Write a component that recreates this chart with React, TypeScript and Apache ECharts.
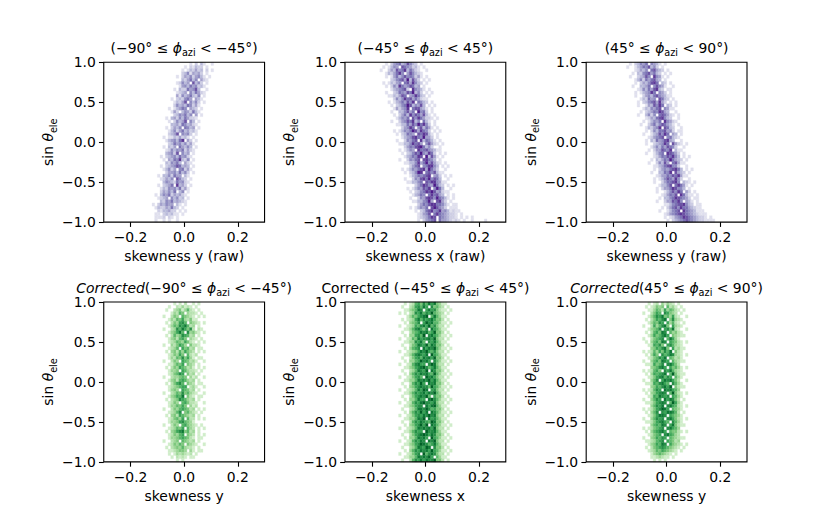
import React, { useEffect, useRef } from 'react';
import * as echarts from 'echarts';

// ---------- colour maps (matplotlib Purples / Greens) ----------
const PURPLES = ['#fcfbfd', '#efedf5', '#dadaeb', '#bcbddc', '#9e9ac8', '#807dba', '#6a51a3', '#54278f', '#3f007d'];
const GREENS = ['#f7fcf5', '#e5f5e0', '#c7e9c0', '#a1d99b', '#74c476', '#41ab5d', '#238b45', '#006d2c', '#00441b'];

// ---------- binning ----------
const X_ORIGIN = -0.3; // left edge of column 0
const X_BIN = 0.01;
const Y_TOP = 1.0; // top edge of row 0
const Y_BIN = 0.04;

const X_TICKS = [-0.2, 0, 0.2];

// ---------- panel 1 : raw, -90..-45 ----------
const p1Start = [29, 28, 28, 27, 27, 27, 26, 26, 26, 26, 25, 25, 25, 24, 24, 24, 24, 23, 23, 23, 23, 23, 22, 22, 22, 22, 22, 22, 21, 21, 21, 21, 21, 21, 21, 20, 20, 20, 20, 20, 19, 19, 19, 19, 18, 18, 18, 18, 17, 17];
const p1Rows = [
  '00010203100100', '00102132201000', '01013242302010', '00235143420100', '10243524531010',
  '00324635042100', '01253407352010', '00145364523100', '10322645730010', '01234053642100',
  '00415346325010', '10232564043100', '01324705352010', '00253436524100', '10134650432010',
  '01420354263100', '00235463504010', '10342536422100', '01025347053010', '00334265342100',
  '10243506534010', '01352463423100', '00234705452010', '10113242310100', '01345368042010',
  '00236453524100', '10324064353010', '01253546242100', '00345270534010', '10234536452100',
  '01043658325010', '00325463042100', '10234576343010', '01352405624100', '00244536352010',
  '10335264403100', '01243507532010', '00354326452100', '10234608342010', '01325453624100',
  '00243536035010', '10354624342100', '01234053523010', '00325463432100', '10243544031010',
  '01322436320100', '00213342201010', '01102323110100', '00111202101000', '00100101001000',
];

// ---------- panel 2 : raw, -45..45 ----------
const p2Start = [13, 13, 13, 13, 14, 14, 14, 14, 15, 15, 15, 15, 16, 16, 16, 17, 17, 17, 17, 18, 18, 18, 18, 19, 19, 19, 19, 20, 20, 20, 20, 21, 21, 21, 21, 22, 22, 22, 23, 23, 23, 23, 24, 24, 24, 24, 25, 25, 25, 25];
const p2Rows = [
  '001024563475320100', '010135407654231010', '100243756836421001', '001324685047532100', '010146357565241010',
  '000235674937420101', '101324506748532010', '010253864576340100', '001345672085431010', '100236547693520101',
  '011324760458632010', '000253586746421100', '101346475806532010', '010235697354730101', '001424580677431010',
  '100335746095620100', '010246385764731010', '001354607586422101', '100245768350631010', '011336475968520100',
  '000245860573641010', '101354697486520101', '010236540768731010', '001345786594420100', '100254670836531010',
  '011335867405742101', '000246578963520010', '101354086675431100', '010235769548620101', '001346587093741010',
  '100254670786530100', '011335846957421010', '000246705688530101', '101354678496420010', '010235980675731100',
  '001346567804520101', '100254786957630010', '011335607688541100', '000246875496320101', '101354768059630010',
  '010235687974521100', '001346506867430101', '100254787596531010', '011335694078420100', '000246578866531011',
  '101354607975420111', '010236785684531211', '0012457068654322101', '00123468706543221010101', '0010245670644321210100100001',
];

// ---------- panel 3 : raw, 45..90 ----------
const p3Start = [15, 15, 16, 16, 16, 16, 17, 17, 17, 17, 18, 18, 18, 19, 19, 19, 19, 20, 20, 20, 20, 21, 21, 21, 21, 22, 22, 22, 22, 23, 23, 23, 23, 24, 24, 24, 24, 25, 25, 25, 26, 26, 26, 26, 27, 27, 27, 27, 28, 28];
const p3Rows = [
  '0102354605431010', '1001346573520100', '0012435067432010', '0103256746320101', '1002347508541010',
  '0013526467430100', '0102435786032010', '1003346057541001', '0012536478320110', '0101345860542010',
  '1002453675431100', '0013264507632010', '0102356748420101', '1001437586032010', '0013254670541100',
  '0102346587430010', '1003525067642101', '0012436785320010', '0101354608542100', '1002463576431010',
  '0013245807632001', '0102536674520110', '1001347586043010', '0012456705632100', '0103264578430010',
  '1002345860742101', '0013536476520010', '0102447658031100', '1001356087642010', '0012465768530101',
  '0103246596432010', '1002537406741100', '0011346785520010', '0102454678630101', '1003365807432010',
  '0012446576841100', '0101357648520010', '1002466785032101', '0013357068641010', '0102446875530100',
  '1001357586042010', '0012465708631101', '0103356876542011', '1002447685043101', '0011356778532011',
  '0102467586643211', '10013567086543111', '001245678765432111', '0101245687654322101', '00102345676543221111',
];

// ---------- panel 4 : corrected, -90..-45 ----------
const p4Start = 22;
const p4Rows = [
  '00001010200101000', '00100213121010000', '01002341352101000', '00013254032210100', '10024305432101010',
  '00132546324110000', '01024367504321010', '00135476852301000', '10023758647202100', '00134685073421010',
  '01025347652301000', '00134256403210100', '00123543642101010', '10032465304221000', '00123506452301100',
  '01034253643201010', '00124364052120000', '00132547463101100', '10024306542310010', '00113546043201000',
  '01024365423101010', '00133406532210100', '00124576042301000', '10023345403120010', '00134256532301000',
  '01024675043201100', '00123456602310010', '00134306542301000', '10023547453210010', '00134658042101100',
  '01023476532301000', '00124305642210010', '00133546403120000', '10024356542301010', '00123570453210100',
  '01034265432301000', '00124536052201010', '00133467543100000', '10024305643210100', '00123546053201010',
  '01034678452301000', '00124356043201010', '00133456542101100', '10023405432301000', '00124354043210010',
  '01023435322101000', '00112344303101100', '00101323212010000', '00010212101100000', '00000101000000000',
];

// ---------- panel 5 : corrected, -45..45 ----------
const p5Start = 20;
const p5Rows = [
  '00101256475868431100', '01002367586074532010', '00113458706867421101', '10102376857695432010', '00013546789058531100',
  '01012368576786442010', '00103457069785531101', '10012365786957422010', '00113578647086531100', '01002456878569442010',
  '00103367590786531101', '10012548677869422010', '00113376850768531100', '01002458769587442010', '00103567086879531101',
  '10012346879657422010', '00113578768096531100', '01002467587869442010', '00103356978607531101', '10012578660798422010',
  '00113467897568531100', '01002358769087442010', '00103576878659531101', '10012467509786422010', '00113358787968531100',
  '01002576960878442010', '00103467877596531101', '10012358698067422010', '00113576786879531100', '01002467879506442010',
  '00103358660897531101', '10012576897768422010', '00113467708689531100', '01002358879756442010', '00103576968087531101',
  '10012467687978422010', '00113358790867531100', '01002576876598442010', '00103467969087531101', '10012358787869422010',
  '00113576609778531100', '01002467898687442010', '00103358786096531101', '10012576870879422010', '00113467987568531100',
  '01002358769807442010', '00103576878696531101', '10012467095787422010', '00113358787960531100', '01002576868779442010',
];

// ---------- panel 6 : corrected, 45..90 ----------
const p6Start = 21;
const p6Rows = [
  '001012031321010000', '010124340523101000', '001135426354210100', '100246507643201000', '001357684536210010',
  '010246578047321000', '001354760635210100', '100263578406321000', '001345706758210010', '010256487053421000',
  '001364578604321100', '100245670586310000', '010356487065421010', '001265740675321000', '000346578406231100',
  '101253647580421000', '010364075687321010', '001245768054231000', '100356487605321100', '011264570786420000',
  '000345786064531010', '101256407685321000', '010365678059421100', '001246785760531000', '100357068786420010',
  '011265786507531000', '000346578690421100', '101257608786530000', '010346787059421010', '001265876706531000',
  '100357608687420100', '011246787059631000', '000357680786521010', '101246798605431000', '010357076887520100',
  '001246887065431000', '100357670786421010', '011246786507531000', '000356587068421100', '101245670786530000',
  '010356786054421010', '001245607865320000', '100346576054321100', '011235670654230000', '001346587064321010',
  '010245676543210100', '001235465432101000', '000134543210100000', '000112321101000000', '000010101000000000',
];

// ---------- texts ----------
const TITLES = [
  '{n|(−90° ≤ }{i|ϕ}{s|azi}{n| < −45°)}',
  '{n|(−45° ≤ }{i|ϕ}{s|azi}{n| < 45°)}',
  '{n|(45° ≤ }{i|ϕ}{s|azi}{n| < 90°)}',
  '{i|Corrected}{n|(−90° ≤ }{i|ϕ}{s|azi}{n| < −45°)}',
  '{n|Corrected (−45° ≤ }{i|ϕ}{s|azi}{n| < 45°)}',
  '{i|Corrected}{n|(45° ≤ }{i|ϕ}{s|azi}{n| < 90°)}',
];
const X_NAMES = ['skewness y (raw)', 'skewness x (raw)', 'skewness y (raw)', 'skewness y', 'skewness x', 'skewness y'];
const Y_NAME = '{n|sin }{i|θ}{s|ele}';

const PANELS = [
  { start: p1Start, rows: p1Rows },
  { start: p2Start, rows: p2Rows },
  { start: p3Start, rows: p3Rows },
  { start: p4Start, rows: p4Rows },
  { start: p5Start, rows: p5Rows },
  { start: p6Start, rows: p6Rows },
];

// ---------- layout ----------
const FONT = 'DejaVu Sans';
const FS = 13.9;
const GRID_LEFT = [103.75, 344.97, 586.19];
const GRID_TOP = [62.28, 302.04];
const GRID_W = 160.81;
const GRID_H = 159.84;
const LH = 16;

function buildCells(start: number | number[], rows: string[]) {
  const out: number[][] = [];
  rows.forEach((row, r) => {
    const s = Array.isArray(start) ? start[r] : start;
    for (let i = 0; i < row.length; i++) {
      const v = Number(row[i]);
      if (v > 0) out.push([X_ORIGIN + (s + i) * X_BIN, Y_TOP - (r + 1) * Y_BIN, v]);
    }
  });
  return out;
}

const fmt = (v: number) => (Math.abs(v) < 1e-9 ? '0.0' : (v < 0 ? '−' : '') + Math.abs(v).toFixed(1));

const rich = {
  n: { fontFamily: FONT, fontSize: FS, fontWeight: 'normal', color: '#000', lineHeight: LH },
  i: { fontFamily: FONT, fontSize: FS, fontWeight: 'normal', fontStyle: 'italic', color: '#000', lineHeight: LH },
  s: { fontFamily: FONT, fontSize: 9.7, fontWeight: 'normal', color: '#000', lineHeight: 10, padding: [8, 0, 0, 0], verticalAlign: 'top' },
};

export default function App() {
  const ref = useRef<HTMLDivElement>(null);
  useEffect(() => {
    document.body.style.margin = '0';
    if (!ref.current) return;
    const chart = echarts.init(ref.current, null, { renderer: 'svg' });

    const grids: any[] = [];
    const xAxes: any[] = [];
    const yAxes: any[] = [];
    const titles: any[] = [];
    const series: any[] = [];

    PANELS.forEach((p, k) => {
      const c = k % 3;
      const r = Math.floor(k / 3);
      grids.push({
        left: GRID_LEFT[c], top: GRID_TOP[r], width: GRID_W, height: GRID_H,
        show: true, borderColor: '#000', borderWidth: 1.1, backgroundColor: 'transparent', z: 10,
      });
      xAxes.push({
        type: 'value', gridIndex: k, min: -0.3, max: 0.3,
        axisLine: { show: false, onZero: false }, splitLine: { show: false },
        axisTick: { show: true, length: 4.8, customValues: X_TICKS, lineStyle: { color: '#000', width: 1.1 } },
        axisLabel: { customValues: X_TICKS, formatter: fmt, color: '#000', fontSize: FS, fontFamily: FONT, margin: 8 },
        name: X_NAMES[k], nameLocation: 'middle', nameGap: 27,
        nameTextStyle: { color: '#000', fontSize: FS, fontFamily: FONT },
      });
      yAxes.push({
        type: 'value', gridIndex: k, min: -1, max: 1, interval: 0.5,
        axisLine: { show: false, onZero: false }, splitLine: { show: false },
        axisTick: { show: true, length: 4.8, lineStyle: { color: '#000', width: 1.1 } },
        axisLabel: { formatter: fmt, color: '#000', fontSize: FS, fontFamily: FONT, margin: 8 },
        name: Y_NAME, nameLocation: 'middle', nameGap: 42, nameRotate: 90,
        nameTextStyle: { rich },
      });
      titles.push({
        text: TITLES[k], left: GRID_LEFT[c] + GRID_W / 2, top: GRID_TOP[r] - 22.5,
        textAlign: 'center', padding: 0, textStyle: { fontWeight: 'normal', rich },
      });
      series.push({
        type: 'custom', xAxisIndex: k, yAxisIndex: k, silent: true,
        dimensions: ['x', 'y', 'count'], encode: { x: 0, y: 1 },
        data: buildCells(p.start, p.rows),
        renderItem: (params: any, api: any) => {
          const x = api.value(0);
          const y = api.value(1);
          const a = api.coord([x, y + Y_BIN]);
          const b = api.coord([x + X_BIN, y]);
          const color = api.visual('color');
          return {
            type: 'rect',
            shape: { x: a[0], y: a[1], width: b[0] - a[0], height: b[1] - a[1] },
            style: { fill: color, stroke: color, lineWidth: 0.3 },
          };
        },
      });
    });

    chart.setOption({
      animation: false,
      backgroundColor: '#fff',
      title: titles,
      grid: grids,
      xAxis: xAxes,
      yAxis: yAxes,
      visualMap: [
        { type: 'continuous', show: false, min: 0, max: 10, dimension: 2, seriesIndex: [0, 1, 2], inRange: { color: PURPLES.slice(1) } },
        { type: 'continuous', show: false, min: 0, max: 10, dimension: 2, seriesIndex: [3, 4, 5], inRange: { color: GREENS.slice(1) } },
      ],
      series,
    });
    return () => chart.dispose();
  }, []);
  return <div ref={ref} style={{ width: 830, height: 519 }} />;
}
